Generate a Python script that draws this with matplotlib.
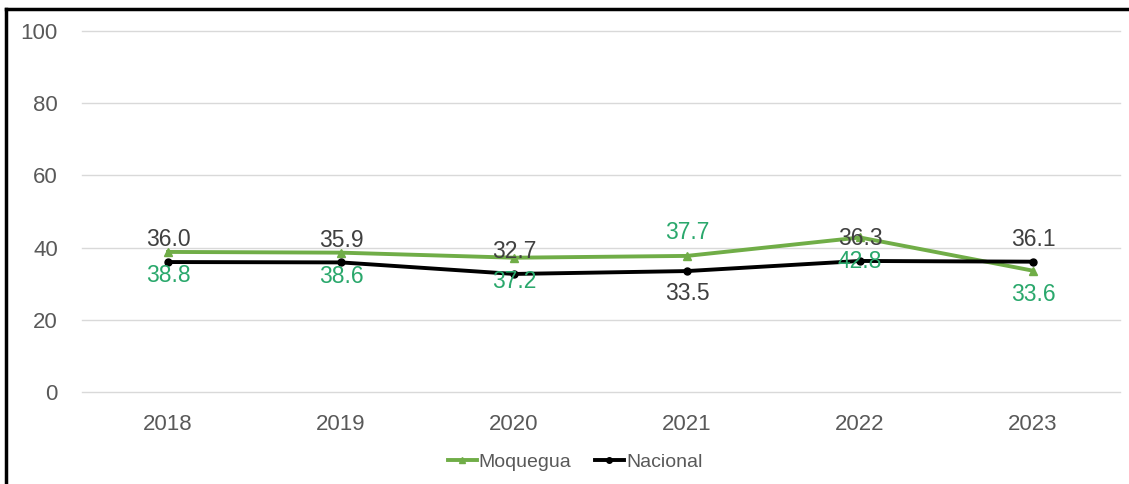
import matplotlib
matplotlib.use("Agg")
import matplotlib.pyplot as plt
from matplotlib.lines import Line2D

years = ["2018", "2019", "2020", "2021", "2022", "2023"]
moquegua = [38.8, 38.6, 37.2, 37.7, 42.8, 33.6]
nacional = [36.0, 35.9, 32.7, 33.5, 36.3, 36.1]
yticks = [0, 20, 40, 60, 80, 100]

# label placement: +1 above point, -1 below point
moq_side = [-1, -1, -1, 1, -1, -1]
nac_side = [1, 1, 1, -1, 1, 1]

plt.rcParams['font.family'] = ['Liberation Sans', 'DejaVu Sans']

W, H = 1129, 484
fig = plt.figure(figsize=(W / 100, H / 100), dpi=100)
ax = fig.add_axes([81.5 / W, 1 - 392 / H, 1038 / W, 361 / H])

green = "#70AD47"
label_green = "#2AA86C"
gray = "#595959"

x = list(range(len(years)))
ax.plot(x, moquegua, color=green, lw=2.8, marker="^", ms=6, label="Moquegua", zorder=3)
ax.plot(x, nacional, color="black", lw=2.8, marker="o", ms=5, label="Nacional", zorder=3)

for i in x:
    ax.annotate(f"{moquegua[i]:.1f}", (i, moquegua[i]), xytext=(0, 17 * moq_side[i]),
                textcoords="offset points", ha="center", va="center",
                fontsize=16.5, color=label_green, zorder=4)
    ax.annotate(f"{nacional[i]:.1f}", (i, nacional[i]), xytext=(0, 16 * nac_side[i]),
                textcoords="offset points", ha="center", va="center",
                fontsize=16.5, color="#404040", zorder=4)

ax.set_xlim(-0.5, len(years) - 0.5)
ax.set_ylim(0, 100)
ax.set_xticks(x)
ax.set_xticklabels(years)
ax.set_yticks(yticks)
ax.tick_params(axis="both", length=0, labelsize=16, labelcolor=gray)
ax.tick_params(axis="y", pad=17)
ax.tick_params(axis="x", pad=16)
ax.grid(axis="y", color="#D9D9D9", lw=1)
for gl in ax.get_ygridlines():
    gl.set_clip_on(False)
ax.set_axisbelow(True)
for s in ax.spines.values():
    s.set_visible(False)

leg = fig.legend(loc="center", bbox_to_anchor=(575 / W, 1 - 462 / H), ncol=2,
                 frameon=False, fontsize=14, handlelength=1.5, handletextpad=0.1,
                 columnspacing=1.2, markerscale=0.8)
for t in leg.get_texts():
    t.set_color(gray)

# outer frame (left and top edges visible)
fig.add_artist(Line2D([6 / W, 6 / W], [0, 1 - 9 / H], color="black", lw=2.5,
                      transform=fig.transFigure))
fig.add_artist(Line2D([6 / W, 1], [1 - 9 / H, 1 - 9 / H], color="black", lw=2.5,
                      transform=fig.transFigure))

fig.savefig("out.png", dpi=100)
